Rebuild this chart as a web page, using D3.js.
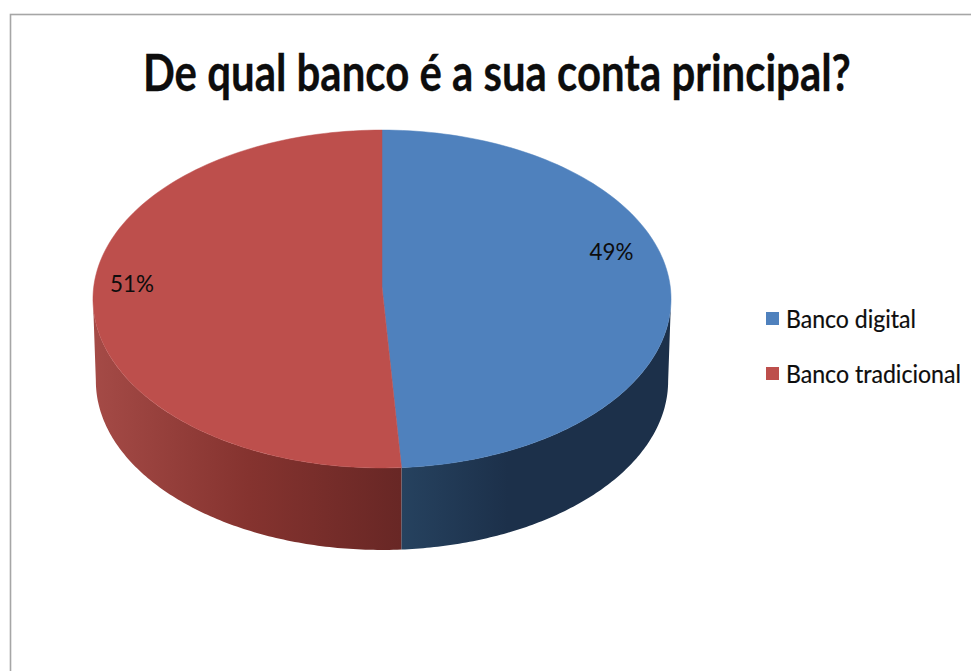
<!DOCTYPE html>
<html>
<head>
<meta charset="utf-8">
<style>
  html, body { margin: 0; padding: 0; background: #fff; overflow: hidden; }
  svg { display: block; }
  text { font-family: Lato, "Open Sans", sans-serif; fill: #0d0d0d; }
</style>
<script src="https://cdn.jsdelivr.net/npm/d3@7/dist/d3.min.js"></script>
</head>
<body>
<script>
const titleText = "De qual banco é a sua conta principal?";
const categories = ["Banco digital", "Banco tradicional"];
const shares = [49, 51];
const topColors = ["#4f81bd", "#bd4f4c"];
const wallStops = [
  [["0", "#26425f"], ["0.4", "#1c304a"], ["1", "#1c304a"]],
  [["0", "#a44a46"], ["0.5", "#85332f"], ["1", "#682725"]]
];

const width = 971, height = 671;
const svg = d3.select("body").append("svg").attr("width", width).attr("height", height);

// Places a text and squeezes it horizontally to a given width
function fitText(sel, x, y, targetWidth) {
  sel.attr("transform", function () {
    const k = targetWidth / this.getComputedTextLength();
    return `translate(${x},${y}) scale(${k},1)`;
  });
}

// Chart frame, open past the right and bottom edges of the window
svg.append("rect")
  .attr("x", 10.5).attr("y", 14.5)
  .attr("width", width + 20).attr("height", height + 20)
  .attr("fill", "#fff").attr("stroke", "#a6a6a6").attr("stroke-width", 1.6);

// Title
svg.append("text")
  .attr("font-size", 51).attr("font-weight", 700)
  .attr("stroke", "#0d0d0d").attr("stroke-width", 0.3)
  .text(titleText)
  .call(fitText, 143, 90.5, 708);

// Perspective projection of the unit circle: the front of the pie is nearer the viewer
const persp = { k: 0.071, cx: 382, y0: 287, depth: 82, R: 288.3, S: 168.1, baseScale: 0.99 };
const project = (a, base) => {
  const X = Math.sin(a), Z = -Math.cos(a), w = 1 - persp.k * Z;
  return [
    persp.cx + (base ? persp.baseScale : 1) * persp.R * X / w,
    persp.y0 + (base ? persp.depth : 0) + persp.S * Z / w
  ];
};

const slices = d3.pie().sort(null)(shares);
const arcSteps = (a0, a1) => d3.range(0, 121).map(k => a0 + (a1 - a0) * k / 120);
const line = d3.line();

// The rim is visible between the two silhouette points of the projected circle
const rimStart = Math.acos(-persp.k), rimEnd = 2 * Math.PI - rimStart;
const wallRanges = slices.map(s => [Math.max(s.startAngle, rimStart), Math.min(s.endAngle, rimEnd)]);

// Horizontal shading of each wall section: the blue darkens away from the front seam,
// the red darkens towards it
const defs = svg.append("defs");
wallRanges.forEach((r, i) => {
  const g = defs.append("linearGradient").attr("id", "wall" + i)
    .attr("gradientUnits", "userSpaceOnUse")
    .attr("x1", project(r[1], true)[0]).attr("x2", project(r[0], true)[0])
    .attr("y1", 0).attr("y2", 0);
  g.selectAll("stop").data(wallStops[i]).join("stop")
    .attr("offset", d => d[0]).attr("stop-color", d => d[1]);
});

const wallPath = ([a0, a1]) => {
  const steps = arcSteps(a0, a1);
  return line(steps.map(a => project(a, false)).concat(steps.map(a => project(a, true)).reverse())) + "Z";
};
svg.selectAll("path.wall").data(wallRanges).join("path")
  .attr("class", "wall")
  .attr("d", wallPath)
  .attr("fill", (d, i) => `url(#wall${i})`);

// Upper face: each slice closes through the projected centre of the circle
const centre = [persp.cx, persp.y0];
svg.selectAll("path.face").data(slices).join("path")
  .attr("class", "face")
  .attr("d", s => line([centre].concat(arcSteps(s.startAngle, s.endAngle).map(a => project(a, false)))) + "Z")
  .attr("fill", (d, i) => topColors[i])
  .attr("stroke", (d, i) => topColors[i])
  .attr("stroke-width", 0.5);

// Percentage labels
const labelPos = [[589.5, 260], [110, 292]];
svg.selectAll("text.pct").data(shares).join("text")
  .attr("class", "pct")
  .attr("font-size", 23)
  .text(d => d + "%")
  .each(function (d, i) { d3.select(this).call(fitText, labelPos[i][0], labelPos[i][1], 44); });

// Legend
const legendY = d3.scalePoint().domain(categories).range([319, 374]);
const legendWidths = [130, 175];
const legend = svg.selectAll("g.legend").data(categories).join("g")
  .attr("class", "legend")
  .attr("transform", d => `translate(766,${legendY(d)})`);
legend.append("rect")
  .attr("x", 0).attr("y", -7).attr("width", 13).attr("height", 13)
  .attr("fill", (d, i) => topColors[i]);
legend.append("text")
  .attr("font-size", 25)
  .attr("stroke", "#0d0d0d").attr("stroke-width", 0.2)
  .text(d => d)
  .each(function (d, i) { d3.select(this).call(fitText, 20, 8.5, legendWidths[i]); });
</script>
</body>
</html>
